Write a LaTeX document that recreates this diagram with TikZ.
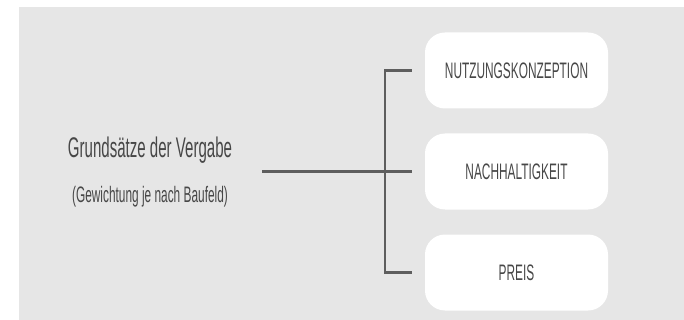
\documentclass[tikz,border=0pt]{standalone}
\usepackage{fontspec}
\setmainfont[FakeStretch=0.53]{Liberation Sans}
\usetikzlibrary{positioning}

\definecolor{panelgray}{HTML}{E6E6E6}
\definecolor{linegray}{HTML}{5E5E5E}
\definecolor{textgray}{HTML}{474747}

\tikzstyle{crit} = [fill=white, rounded corners=20pt, minimum width=183pt, minimum height=76pt, inner sep=0pt, text=textgray, font=\fontsize{22.4}{24}\selectfont]
\tikzstyle{bar} = [draw=linegray, line width=2.6pt]

\begin{document}
\begin{tikzpicture}[x=1pt, y=-1pt]
%hintergrund
\useasboundingbox (0,0) rectangle (684,320);
\fill[white] (0,0) rectangle (684,320);
\fill[panelgray] (19,7) rectangle (684,320);
%begin titel
\node[anchor=base, text=textgray, font=\fontsize{28.4}{30}\selectfont] (title) at (150,158) {Grundsätze der Vergabe};
\node[anchor=base, text=textgray, font=\fontsize{22.4}{24}\selectfont] (subtitle) at (150,202) {(Gewichtung je nach Baufeld)};
%end titel
%begin kriterien
\node[crit] (nutzung) at (516.5,70.5) {NUTZUNGSKONZEPTION};
\node[crit] (nachhalt) at (516.5,171.5) {NACHHALTIGKEIT};
\node[crit] (preis) at (516.5,272.5) {PREIS};
%end kriterien
%begin klammer
\coordinate (stem) at (262,171.5);
\coordinate (spine) at (385,171.5);
\draw[bar] ([xshift=-13pt]nutzung.west) -- (spine |- nutzung) -- (spine |- preis) -- ([xshift=-13pt]preis.west);
\draw[bar] (stem) -- ([xshift=-13pt]nachhalt.west);
%end klammer
\end{tikzpicture}
\end{document}
